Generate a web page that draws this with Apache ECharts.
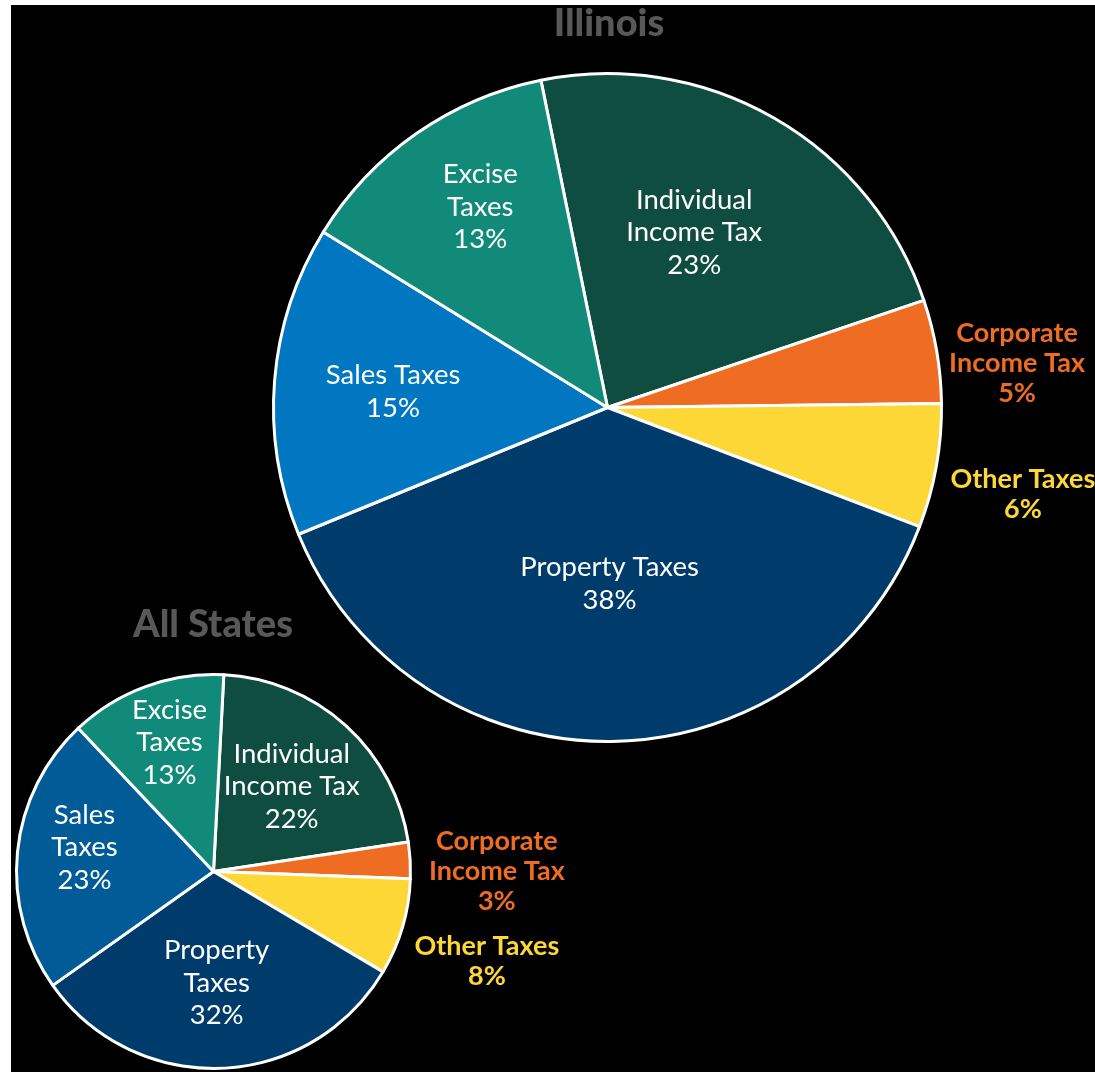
<!DOCTYPE html>
<html>
<head>
<meta charset="utf-8">
<title>Tax Revenue Composition</title>
<script src="https://cdn.jsdelivr.net/npm/echarts@6/dist/echarts.min.js"></script>
<style>
  html, body { margin: 0; padding: 0; background: #ffffff; width: 1095px; height: 1072px; overflow: hidden; }
  #chart { position: absolute; left: 11px; top: 5px; width: 1084px; height: 1067px; background: #000000; }
</style>
</head>
<body>
<div id="chart"></div>
<script>
// Revenue categories, in the clockwise order they are drawn
const categories = [
  'Individual Income Tax',
  'Corporate Income Tax',
  'Other Taxes',
  'Property Taxes',
  'Sales Taxes',
  'Excise Taxes'
];

// Share of total tax revenue, percent
const illinoisShares  = [23, 5, 6, 38, 15, 13];
const allStatesShares = [22, 3, 8, 32, 23, 13];

// Label wording (line breaks differ between the two pies)
const illinoisLabelText = [
  'Individual\nIncome Tax', 'Corporate\nIncome Tax', 'Other Taxes',
  'Property Taxes', 'Sales Taxes', 'Excise\nTaxes'
];
const allStatesLabelText = [
  'Individual\nIncome Tax', 'Corporate\nIncome Tax', 'Other Taxes',
  'Property\nTaxes', 'Sales\nTaxes', 'Excise\nTaxes'
];

// Slice colours
const sliceColors = {
  'Individual Income Tax': '#0f4d40',
  'Corporate Income Tax':  '#ee6d23',
  'Other Taxes':           '#fdd735',
  'Property Taxes':        '#003c6b',
  'Sales Taxes':           '#0077c0',
  'Excise Taxes':          '#128a7a'
};
const allStatesSalesColor = '#005b97';

// Small slices get their labels outside, in the slice colour
const outsideLabelled = ['Corporate Income Tax', 'Other Taxes'];

// Label nudges from the default inside position [dx, dy]
const illinoisLabelShift = [[2, -28], [242, -16], [248, 57], [0, 6], [-45, -2], [-30, -61]];
const allStatesLabelShift = [[10, -10], [182, 6], [176, 61], [-1, 10], [-28, -14], [-9, -34]];

const FONT = 'Lato, "Open Sans", sans-serif';

function buildData(shares, labelText, shifts, overrides) {
  return categories.map((name, i) => {
    const color = (overrides && overrides[name]) || sliceColors[name];
    const outside = outsideLabelled.includes(name);
    return {
      name: name,
      value: shares[i],
      itemStyle: { color: color },
      label: {
        formatter: labelText[i] + '\n' + shares[i] + '%',
        offset: shifts[i],
        color: outside ? color : '#ffffff',
        fontWeight: outside ? 'bold' : 'normal',
        fontSize: outside ? 27 : 27.5,
        lineHeight: outside ? 30 : 32.5
      }
    };
  });
}

function pieSeries(center, radius, startAngle, data) {
  return {
    type: 'pie',
    center: center,
    radius: radius,
    startAngle: startAngle,
    clockwise: true,
    avoidLabelOverlap: false,
    silent: true,
    animation: false,
    itemStyle: { borderColor: '#ffffff', borderWidth: 3 },
    label: {
      show: true,
      position: 'inside',
      fontFamily: FONT,
      align: 'center',
      verticalAlign: 'middle',
      textBorderWidth: 0
    },
    labelLine: { show: false },
    emphasis: { disabled: true },
    data: data
  };
}

const chart = echarts.init(document.getElementById('chart'), null, { renderer: 'canvas' });

chart.setOption({
  backgroundColor: '#000000',
  animation: false,
  graphic: [
    {
      type: 'text', x: 598, y: 19,
      style: {
        text: 'Illinois', fill: '#585858', font: '900 38px ' + FONT,
        align: 'center', verticalAlign: 'middle'
      }
    },
    {
      type: 'text', x: 202, y: 620,
      style: {
        text: 'All States', fill: '#585858', font: '900 38px ' + FONT,
        align: 'center', verticalAlign: 'middle'
      }
    }
  ],
  series: [
    pieSeries([596.5, 402.5], 334, 101.5,
      buildData(illinoisShares, illinoisLabelText, illinoisLabelShift)),
    pieSeries([202.5, 866.5], 197, 87,
      buildData(allStatesShares, allStatesLabelText, allStatesLabelShift,
        { 'Sales Taxes': allStatesSalesColor }))
  ]
});
</script>
</body>
</html>
